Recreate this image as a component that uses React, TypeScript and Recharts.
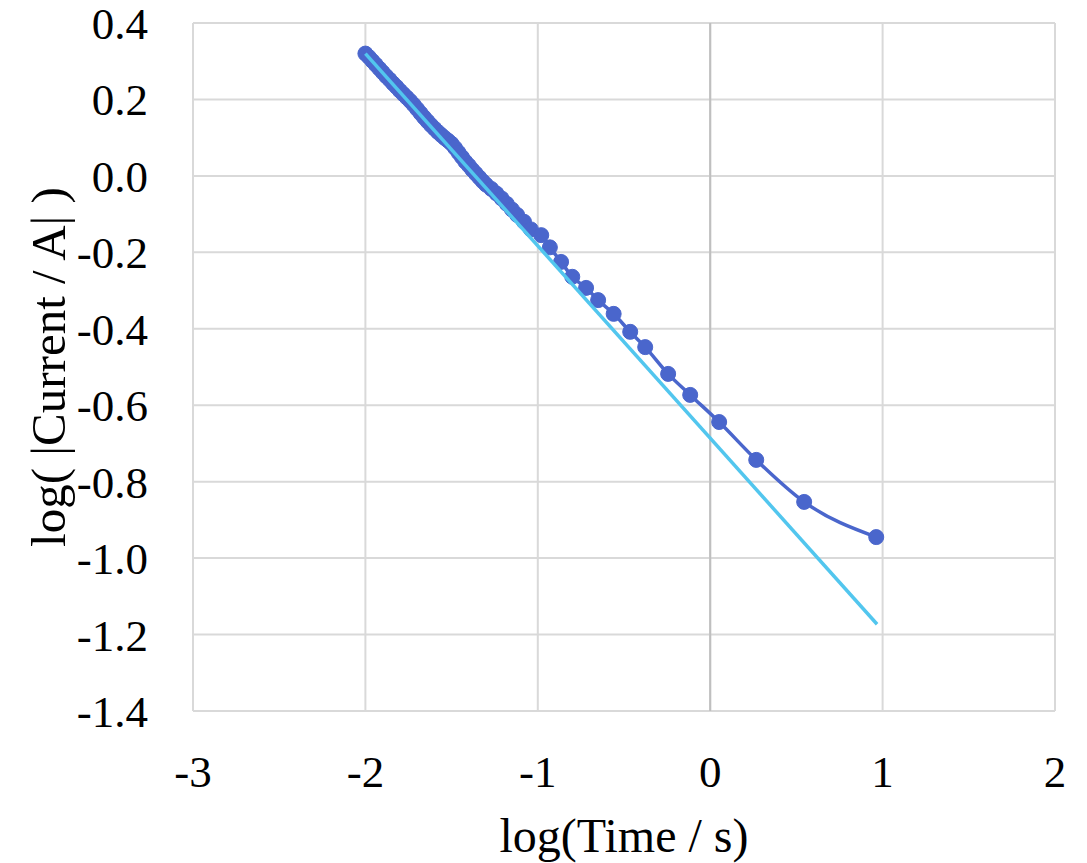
import React from "react";
import { LineChart, Line, XAxis, YAxis, CartesianGrid, ReferenceLine, Label } from "recharts";

const logTime = [
  -2.0, -1.98, -1.96, -1.94, -1.92, -1.9, -1.88, -1.86, -1.84, -1.82,
  -1.8, -1.78, -1.76, -1.74, -1.72, -1.7, -1.68, -1.66, -1.64, -1.62,
  -1.6, -1.58, -1.56, -1.54, -1.52, -1.5, -1.48, -1.46, -1.44, -1.42,
  -1.4, -1.38, -1.36, -1.34, -1.32, -1.3, -1.27, -1.24, -1.21, -1.18,
  -1.15, -1.12, -1.08, -1.04, -0.98, -0.93, -0.865, -0.8, -0.72, -0.65,
  -0.56, -0.464, -0.377, -0.244, -0.116, 0.052, 0.267, 0.545, 0.963,
];
const logCurrent = [
  0.32, 0.311, 0.301, 0.291, 0.281, 0.271, 0.261, 0.252, 0.242, 0.233,
  0.223, 0.214, 0.205, 0.196, 0.186, 0.175, 0.164, 0.153, 0.143, 0.133,
  0.124, 0.115, 0.107, 0.099, 0.092, 0.084, 0.073, 0.061, 0.049, 0.037,
  0.027, 0.016, 0.006, -0.004, -0.014, -0.023, -0.034, -0.046, -0.059, -0.073,
  -0.088, -0.102, -0.12, -0.14, -0.155, -0.187, -0.225, -0.264, -0.293, -0.325,
  -0.361, -0.408, -0.448, -0.518, -0.573, -0.644, -0.743, -0.853, -0.945,
];
const fitTime = [-2.0, 0.968];
const fitCurrent = [0.32, -1.173];

const xTicks = [-3, -2, -1, 0, 1, 2];
const yTicks = [-1.4, -1.2, -1.0, -0.8, -0.6, -0.4, -0.2, 0.0, 0.2, 0.4];

const xTitle = "log(Time / s)";
const yTitle = "log( |Current / A| )";

const dataPts = logTime.map((x, i) => ({ x, y: logCurrent[i] }));
const fitPts = fitTime.map((x, i) => ({ x, y: fitCurrent[i] }));

const FONT = "'Liberation Serif', 'Times New Roman', serif";
const tickStyle = { fontFamily: FONT, fontSize: 45, fill: "#000" };

const YTitle = (props: any) => {
  const vb = props.viewBox || {};
  const cx = vb.x + 65;
  const cy = vb.y + vb.height / 2;
  return (
    <text
      x={cx}
      y={cy}
      transform={`rotate(-90, ${cx}, ${cy})`}
      textAnchor="middle"
      fontFamily={FONT}
      fontSize={49}
      fill="#000"
    >
      {yTitle}
    </text>
  );
};

export default function App() {
  return (
    <div style={{ position: "absolute", left: 0, top: 0, width: 1087, height: 863, background: "#fff" }}>
      <LineChart width={1087} height={863} margin={{ top: 23, right: 32, bottom: 0, left: 0 }}>
        <CartesianGrid stroke="#D9D9D9" strokeWidth={2} />
        <XAxis
          type="number"
          dataKey="x"
          domain={[-3, 2]}
          ticks={xTicks}
          interval={0}
          height={152}
          axisLine={false}
          tickLine={false}
          tickSize={0}
          tickMargin={44}
          tick={tickStyle}
          allowDataOverflow
        >
          <Label
            value={xTitle}
            position="insideBottom"
            offset={11}
            style={{ fontFamily: FONT, fontSize: 48, fill: "#000" }}
          />
        </XAxis>
        <YAxis
          type="number"
          dataKey="y"
          domain={[-1.4, 0.4]}
          ticks={yTicks}
          interval={0}
          width={193}
          axisLine={false}
          tickLine={false}
          tickSize={0}
          tickMargin={45}
          tick={tickStyle}
          tickFormatter={(v: number) => v.toFixed(1)}
          allowDataOverflow
        >
          <Label content={YTitle} />
        </YAxis>
        <ReferenceLine x={0} stroke="#BFBFBF" strokeWidth={2} />
        <Line
          data={dataPts}
          dataKey="y"
          type="monotone"
          stroke="#4A66CC"
          strokeWidth={3.5}
          dot={{ r: 7.5, fill: "#4A66CC", stroke: "#4A66CC", strokeWidth: 1 }}
          activeDot={false}
          isAnimationActive={false}
        />
        <Line
          data={fitPts}
          dataKey="y"
          type="linear"
          stroke="#52C6EE"
          strokeWidth={3.5}
          dot={false}
          activeDot={false}
          isAnimationActive={false}
          zIndex={1000}
        />
      </LineChart>
    </div>
  );
}
